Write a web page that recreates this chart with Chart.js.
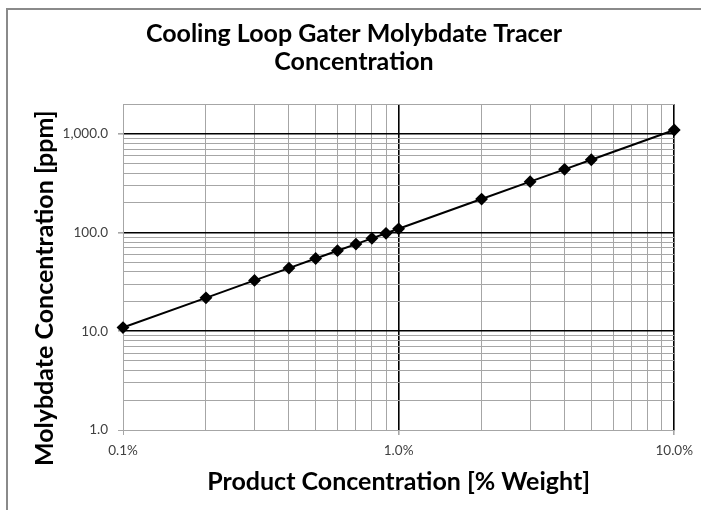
<!DOCTYPE html>
<html>
<head>
<meta charset="utf-8">
<script src="https://cdn.jsdelivr.net/npm/chart.js@4/dist/chart.umd.min.js"></script>
<style>
    html, body { margin: 0; padding: 0; background: #fff; }
    #wrap { position: relative; width: 701px; height: 510px; overflow: hidden; }
    #frame { position: absolute; left: 6px; top: 8px; width: 800px; height: 600px; border: 2px solid #8a8a8a; pointer-events: none; }
    canvas { position: absolute; left: 0; top: 0; }
</style>
</head>
<body>
<div id="wrap">
    <canvas id="chart" width="701" height="510"></canvas>
    <div id="frame"></div>
</div>
<script>
// Product concentration [% weight] and molybdate reading [ppm]
const productPct = [0.1, 0.2, 0.3, 0.4, 0.5, 0.6, 0.7, 0.8, 0.9, 1, 2, 3, 4, 5, 10];
const molybdatePpm = [10.9, 21.8, 32.7, 43.6, 54.5, 65.4, 76.3, 87.2, 98.1, 109, 218, 327, 436, 545, 1090];

// Axis ticks (gridlines) and labels
const xGridValues = [0.1, 0.2, 0.3, 0.4, 0.5, 0.6, 0.7, 0.8, 0.9, 1, 2, 3, 4, 5, 6, 7, 8, 9, 10];
const xLabelValues = [0.1, 1, 10];
const xTickLabels = ['0.1%', '1.0%', '10.0%'];
const xDarkLines = [1, 10];

const yGridValues = [1, 2, 3, 4, 5, 6, 7, 8, 9, 10, 20, 30, 40, 50, 60, 70, 80, 90,
    100, 200, 300, 400, 500, 600, 700, 800, 900, 1000, 2000];
const yLabelValues = [1, 10, 100, 1000];
const yTickLabels = ['1.0', '10.0', '100.0', '1,000.0'];
const yDarkLines = [10, 100, 1000];

const FONT = 'Lato, "Open Sans", sans-serif';
const MINOR = '#a6a6a6';

function hasValue(list, v) {
    return list.some(d => Math.abs(d - v) < 1e-9 * Math.max(1, d));
}

function labelFor(values, labels, v) {
    const i = values.findIndex(x => Math.abs(x - v) < 1e-9 * Math.max(1, x));
    return i >= 0 ? labels[i] : '';
}

const gridColor = dark => c => (c.tick && hasValue(dark, c.tick.value)) ? '#000' : MINOR;
const gridWidth = dark => c => (c.tick && hasValue(dark, c.tick.value)) ? 1.6 : 1;
const tickMarkColor = vals => c => (c.tick && hasValue(vals, c.tick.value)) ? MINOR : 'rgba(0,0,0,0)';

// trailing spaces nudge the rotated title down a bit, like the original
const yTitle = 'Molybdate Concentration [ppm]' + ' '.repeat(7);

const ctx = document.getElementById('chart').getContext('2d');
new Chart(ctx, {
    type: 'scatter',
    data: {
        datasets: [{
            data: productPct.map((x, i) => ({ x: x, y: molybdatePpm[i] })),
            showLine: true,
            borderColor: '#000',
            backgroundColor: '#000',
            borderWidth: 2,
            pointStyle: 'rectRot',
            pointRadius: 5,
            pointHoverRadius: 5,
            clip: false
        }]
    },
    options: {
        responsive: false,
        animation: false,
        layout: { padding: { left: 22, top: 8, right: 15, bottom: 0 } },
        plugins: {
            legend: { display: false },
            tooltip: { enabled: false },
            title: {
                display: true,
                text: ['Cooling Loop Gater Molybdate Tracer', 'Concentration'],
                color: '#000',
                font: { family: FONT, size: 25, weight: 'bold', lineHeight: 28 / 25 },
                padding: { top: 12, bottom: 28 }
            }
        },
        scales: {
            x: {
                type: 'logarithmic',
                min: 0.1,
                max: 10,
                afterBuildTicks: scale => { scale.ticks = xGridValues.map(v => ({ value: v })); },
                afterFit: scale => { scale.height = 80; },
                border: { color: MINOR, width: 1 },
                grid: {
                    color: gridColor(xDarkLines),
                    lineWidth: gridWidth(xDarkLines),
                    tickLength: 5,
                    tickColor: tickMarkColor(xLabelValues)
                },
                ticks: {
                    autoSkip: false,
                    maxRotation: 0,
                    padding: 8,
                    color: '#404040',
                    font: { family: FONT, size: 13.5 },
                    callback: v => labelFor(xLabelValues, xTickLabels, v)
                },
                title: {
                    display: true,
                    text: 'Product Concentration [% Weight]',
                    color: '#000',
                    font: { family: FONT, size: 25, weight: 'bold' },
                    padding: { top: 0, bottom: 13 }
                }
            },
            y: {
                type: 'logarithmic',
                min: 1,
                max: 2000,
                afterBuildTicks: scale => { scale.ticks = yGridValues.map(v => ({ value: v })); },
                afterFit: scale => { scale.width = 101; },
                border: { color: MINOR, width: 1 },
                grid: {
                    color: gridColor(yDarkLines),
                    lineWidth: gridWidth(yDarkLines),
                    tickLength: 5,
                    tickColor: tickMarkColor(yLabelValues)
                },
                ticks: {
                    autoSkip: false,
                    padding: 10,
                    color: '#404040',
                    font: { family: FONT, size: 13.5 },
                    callback: v => labelFor(yLabelValues, yTickLabels, v)
                },
                title: {
                    display: true,
                    text: yTitle,
                    color: '#000',
                    font: { family: FONT, size: 25, weight: 'bold' },
                    padding: { top: 8, bottom: 0 }
                }
            }
        }
    }
});
</script>
</body>
</html>
